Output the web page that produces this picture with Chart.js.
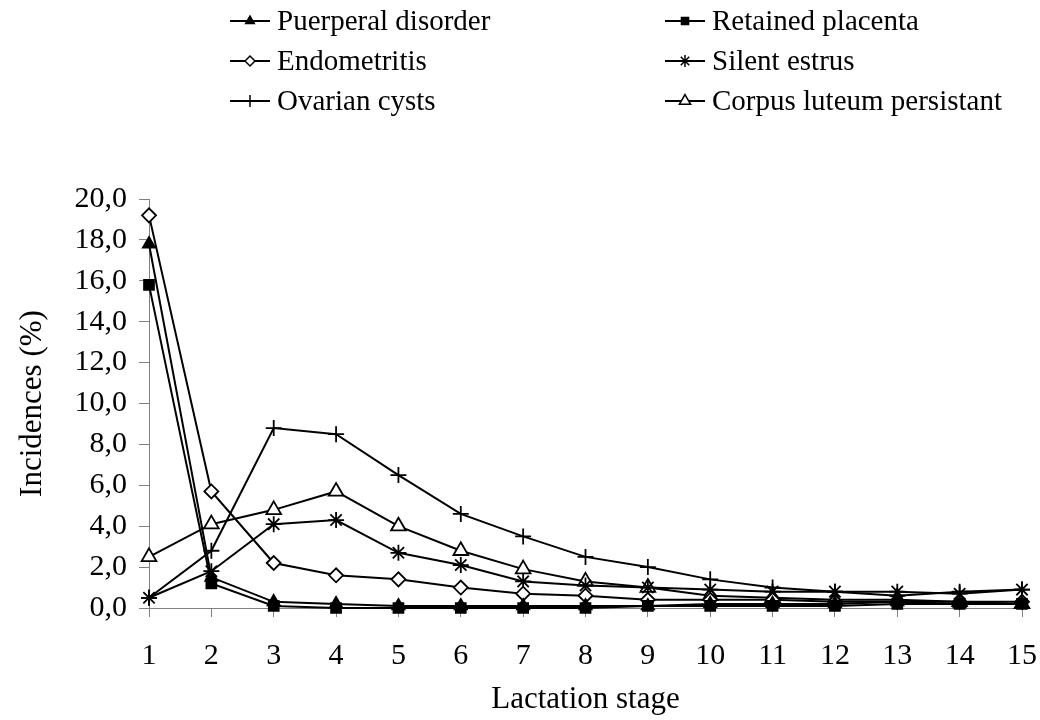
<!DOCTYPE html>
<html>
<head>
<meta charset="utf-8">
<title>Incidences by lactation stage</title>
<script src="https://cdn.jsdelivr.net/npm/chart.js@4/dist/chart.umd.min.js"></script>
<style>
  html, body { margin: 0; padding: 0; background: #fff; }
  #chart { display: block; }
</style>
</head>
<body>
<canvas id="chart" width="1040" height="720"></canvas>
<script>
// Lactation stages (x axis)
const stages = ['1', '2', '3', '4', '5', '6', '7', '8', '9', '10', '11', '12', '13', '14', '15'];

// Incidences (%) per disorder
const puerperal    = [17.8, 1.5, 0.3, 0.2, 0.1, 0.1, 0.1, 0.1, 0.1, 0.2, 0.2, 0.2, 0.3, 0.2, 0.2];
const retained     = [15.8, 1.2, 0.1, 0.0, 0.0, 0.0, 0.0, 0.0, 0.1, 0.1, 0.1, 0.1, 0.2, 0.2, 0.2];
const endometritis = [19.2, 5.7, 2.2, 1.6, 1.4, 1.0, 0.7, 0.6, 0.4, 0.4, 0.4, 0.3, 0.3, 0.3, 0.3];
const silentEstrus = [0.5, 1.8, 4.1, 4.3, 2.7, 2.1, 1.3, 1.1, 1.0, 0.9, 0.8, 0.8, 0.8, 0.7, 0.9];
const ovarianCysts = [0.5, 2.8, 8.8, 8.5, 6.5, 4.6, 3.5, 2.5, 2.0, 1.4, 1.0, 0.8, 0.6, 0.8, 0.9];
const corpusLuteum = [2.5, 4.1, 4.8, 5.7, 4.0, 2.8, 1.9, 1.3, 1.0, 0.6, 0.5, 0.4, 0.4, 0.3, 0.2];

const seriesLabels = ['Puerperal disorder', 'Retained placenta', 'Endometritis',
                      'Silent estrus', 'Ovarian cysts', 'Corpus luteum persistant'];

const serif = '"Liberation Serif", "Times New Roman", serif';
Chart.defaults.font.family = serif;
Chart.defaults.color = '#000';

// helper to build one black line dataset
function makeSeries(label, data, style, radius, fill) {
    return {
        label: label,
        data: data,
        borderColor: '#000',
        borderWidth: 2,
        pointStyle: style,
        pointRadius: radius,
        pointBorderWidth: 1.8,
        pointBorderColor: '#000',
        pointBackgroundColor: fill,
        legendRadius: Math.max(4, radius - 2),
        tension: 0,
        clip: false,
    };
}

// two-column legend above the plot, like the original
const legendCols = [230, 665];
const legendRows = [21, 61, 101];
const gridLegend = {
    id: 'gridLegend',
    afterDraw(chart) {
        const ctx = chart.ctx;
        ctx.save();
        ctx.font = '29px ' + serif;
        ctx.textBaseline = 'middle';
        ctx.textAlign = 'left';
        chart.data.datasets.forEach(function (ds, i) {
            const x0 = legendCols[i % 2];
            const y = legendRows[Math.floor(i / 2)];
            ctx.strokeStyle = '#000';
            ctx.lineWidth = 2;
            ctx.beginPath();
            ctx.moveTo(x0, y);
            ctx.lineTo(x0 + 40, y);
            ctx.stroke();
            if (Chart.helpers && Chart.helpers.drawPoint) {
                ctx.fillStyle = ds.pointBackgroundColor;
                ctx.lineWidth = 1.5;
                Chart.helpers.drawPoint(ctx, {
                    pointStyle: ds.pointStyle,
                    radius: ds.legendRadius,
                    borderWidth: 1.5,
                    rotation: 0
                }, x0 + 20, y);
            }
            ctx.fillStyle = '#000';
            ctx.fillText(ds.label, x0 + 47, y + 1);
        });
        ctx.restore();
    }
};

const ctx = document.getElementById('chart').getContext('2d');
new Chart(ctx, {
    type: 'line',
    data: {
        labels: stages,
        datasets: [
            makeSeries(seriesLabels[0], puerperal, 'triangle', 7, '#000'),
            makeSeries(seriesLabels[1], retained, 'rect', 7, '#000'),
            makeSeries(seriesLabels[2], endometritis, 'rectRot', 7, '#fff'),
            makeSeries(seriesLabels[3], silentEstrus, 'star', 8, '#fff'),
            makeSeries(seriesLabels[4], ovarianCysts, 'cross', 8, '#fff'),
            makeSeries(seriesLabels[5], corpusLuteum, 'triangle', 8.5, '#fff'),
        ],
    },
    options: {
        responsive: false,
        animation: false,
        layout: { padding: { top: 199, right: 18, left: 0, bottom: 0 } },
        plugins: {
            legend: { display: false },
            tooltip: { enabled: false },
        },
        scales: {
            x: {
                offset: false,
                grid: { drawOnChartArea: false, color: '#808080', tickLength: 9 },
                border: { color: '#808080', width: 1 },
                ticks: { font: { size: 30 }, padding: 21, maxRotation: 0, autoSkip: false },
                title: {
                    display: true,
                    text: 'Lactation stage',
                    font: { size: 31 },
                    padding: { top: 0, bottom: 2 },
                },
                afterFit: function (scale) {
                    scale.height = 112;
                    scale.paddingRight = 18; // keep last tick at x ~ 1022
                },
            },
            y: {
                min: 0,
                max: 20,
                grid: { drawOnChartArea: false, color: '#808080', tickLength: 10 },
                border: { color: '#808080', width: 1 },
                ticks: {
                    stepSize: 2,
                    font: { size: 30 },
                    padding: 12,
                    callback: function (v) { return v.toFixed(1).replace('.', ','); },
                },
                title: {
                    display: true,
                    text: 'Incidences (%)',
                    font: { size: 31 },
                    padding: { top: 14, bottom: 0 },
                },
                afterFit: function (scale) { scale.width = 149; },
            },
        },
    },
    plugins: [gridLegend],
});
</script>
</body>
</html>
